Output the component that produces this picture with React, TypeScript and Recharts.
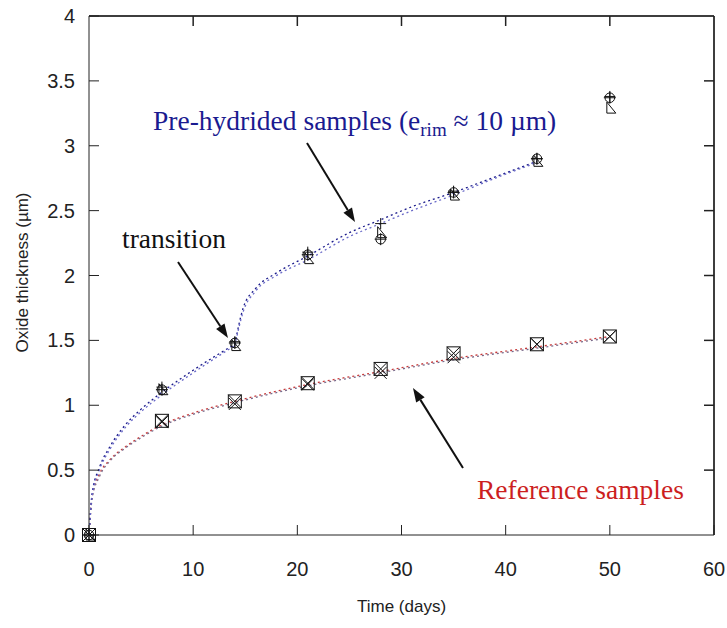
import React from "react";
import { ComposedChart, XAxis, YAxis, Scatter, Line, Label } from "recharts";

// measured days and oxide thickness (µm)
const days = [0, 7, 14, 21, 28, 35, 43, 50];
const phCircle = [0, 1.12, 1.48, 2.16, 2.28, 2.64, 2.9, 3.37];
const phPlus = [0, 1.14, 1.49, 2.18, 2.4, 2.65, 2.9, 3.38];
const phTriangle = [0, 1.12, 1.46, 2.13, 2.33, 2.62, 2.88, 3.29];
const refSquare = [0, 0.88, 1.03, 1.17, 1.28, 1.4, 1.47, 1.53];
const refCross = [0, 0.87, 1.01, 1.16, 1.25, 1.37, 1.47, 1.53];

// fitted curves
const fitDaysEarly = [0, 0.3, 1, 2, 3.5, 5, 7, 10, 14];
const fitPhEarlyA = [0, 0.32, 0.52, 0.68, 0.85, 0.97, 1.1, 1.27, 1.47];
const fitPhEarlyB = [0, 0.3, 0.5, 0.66, 0.83, 0.95, 1.08, 1.25, 1.46];
const fitDaysLate = [14, 14.8, 16, 18, 21, 25, 28, 31, 35, 39, 43];
const fitPhLateA = [1.47, 1.75, 1.9, 2.02, 2.15, 2.33, 2.43, 2.53, 2.64, 2.76, 2.88];
const fitPhLateB = [1.46, 1.72, 1.88, 2.0, 2.12, 2.3, 2.4, 2.5, 2.62, 2.75, 2.87];
const fitDaysRef = [0, 0.3, 1, 2, 3.5, 5, 7, 10, 14, 21, 28, 35, 43, 50];
const fitRefA = [0, 0.3, 0.47, 0.58, 0.68, 0.76, 0.85, 0.94, 1.03, 1.16, 1.26, 1.36, 1.45, 1.53];
const fitRefB = [0, 0.28, 0.45, 0.57, 0.67, 0.75, 0.84, 0.93, 1.02, 1.15, 1.25, 1.35, 1.44, 1.52];

const xTicks = [0, 10, 20, 30, 40, 50, 60];
const yTicks = [0, 0.5, 1, 1.5, 2, 2.5, 3, 3.5, 4];
const topTicks = [10, 20, 30, 40, 50];
const rightTicks = [0.5, 1, 1.5, 2, 2.5, 3, 3.5];

const pts = (xs: number[], ys: number[]) => xs.map((t, i) => ({ t, v: ys[i] }));

const AXIS = "#222";
const TICK_FONT = "'Liberation Sans', Arial, sans-serif";
const SERIF = "'Liberation Serif', 'Times New Roman', serif";

// plot box in page pixels (used only for the frame overlay)
const PL = 89;
const PR = 714;
const PT = 16;
const PB = 535;
const frameX = (t: number) => PL + (t / 60) * (PR - PL);
const frameY = (v: number) => PB - (v / 4) * (PB - PT);

const CirclePlus = ({ cx, cy }: any) => (
  <g stroke="#111" strokeWidth={1} fill="none">
    <circle cx={cx} cy={cy} r={4.8} />
    <line x1={cx - 6} y1={cy} x2={cx + 6} y2={cy} />
    <line x1={cx} y1={cy - 6} x2={cx} y2={cy + 6} />
  </g>
);
const Plus = ({ cx, cy }: any) => (
  <g stroke="#111" strokeWidth={1}>
    <line x1={cx - 5.5} y1={cy} x2={cx + 5.5} y2={cy} />
    <line x1={cx} y1={cy - 5.5} x2={cx} y2={cy + 5.5} />
  </g>
);
const Triangle = ({ cx, cy }: any) => (
  <path
    d={`M${cx - 3},${cy - 6} L${cx - 3},${cy + 5} L${cx + 6},${cy + 5} Z`}
    stroke="#111"
    strokeWidth={1}
    fill="none"
  />
);
const SquareX = ({ cx, cy }: any) => (
  <g stroke="#111" strokeWidth={1} fill="none">
    <rect x={cx - 6.5} y={cy - 6.5} width={13} height={13} />
    <line x1={cx - 6.5} y1={cy - 6.5} x2={cx + 6.5} y2={cy + 6.5} />
    <line x1={cx + 6.5} y1={cy - 6.5} x2={cx - 6.5} y2={cy + 6.5} />
  </g>
);
const Cross = ({ cx, cy }: any) => (
  <g stroke="#111" strokeWidth={1}>
    <line x1={cx - 6} y1={cy - 6} x2={cx + 6} y2={cy + 6} />
    <line x1={cx + 6} y1={cy - 6} x2={cx - 6} y2={cy + 6} />
  </g>
);

const BottomTick = ({ x, y, payload }: any) => (
  <g>
    <line x1={x} y1={y} x2={x} y2={y - 10} stroke={AXIS} />
    <text x={x} y={y + 41} textAnchor="middle" fontFamily={TICK_FONT} fontSize={20} fill="#222">
      {payload.value}
    </text>
  </g>
);
const LeftTick = ({ x, y, payload }: any) => (
  <g>
    <line x1={x} y1={y} x2={x + 10} y2={y} stroke={AXIS} />
    <text x={x - 14} y={y + 7} textAnchor="end" fontFamily={TICK_FONT} fontSize={20} fill="#222">
      {payload.value}
    </text>
  </g>
);

const Arrow = ({ x1, y1, x2, y2 }: { x1: number; y1: number; x2: number; y2: number }) => {
  const a = Math.atan2(y2 - y1, x2 - x1);
  const len = 14;
  const w = 5;
  const bx = x2 - len * Math.cos(a);
  const by = y2 - len * Math.sin(a);
  const p1 = `${bx + w * Math.sin(a)},${by - w * Math.cos(a)}`;
  const p2 = `${bx - w * Math.sin(a)},${by + w * Math.cos(a)}`;
  return (
    <g>
      <line x1={x1} y1={y1} x2={bx} y2={by} stroke="#111" strokeWidth={2} />
      <polygon points={`${x2},${y2} ${p1} ${p2}`} fill="#111" />
    </g>
  );
};

const lineProps = {
  dataKey: "v",
  type: "monotone" as const,
  dot: false,
  strokeWidth: 1.3,
  strokeDasharray: "2 3",
  isAnimationActive: false,
  xAxisId: "top",
  yAxisId: "right",
};

const W = 727;
const H = 628;

export default function App() {
  return (
    <div style={{ position: "absolute", left: 0, top: 0, width: W, height: H, overflow: "hidden" }}>
      <ComposedChart width={W} height={H} margin={{ top: -4, right: -7, left: 0, bottom: 0 }}>
        <XAxis
          dataKey="t"
          type="number"
          domain={[0, 60]}
          ticks={xTicks}
          tickSize={0}
          tickMargin={0}
          height={93}
          stroke={AXIS}
          tick={<BottomTick />}
          interval={0}
        >
          <Label
            content={({ viewBox }: any) => (
              <text
                x={viewBox.x + viewBox.width / 2}
                y={viewBox.y + 77}
                textAnchor="middle"
                fontFamily={TICK_FONT}
                fontSize={17}
                fill="#222"
              >
                Time (days)
              </text>
            )}
          />
        </XAxis>
        <XAxis
          xAxisId="top"
          dataKey="t"
          orientation="top"
          type="number"
          domain={[0, 60]}
          ticks={topTicks}
          height={20}
          tickSize={-10}
          tick={false}
          stroke={AXIS}
        />
        <YAxis
          dataKey="v"
          type="number"
          domain={[0, 4]}
          ticks={yTicks}
          tickSize={0}
          tickMargin={0}
          width={89}
          stroke={AXIS}
          tick={<LeftTick />}
          interval={0}
        >
          <Label
            content={({ viewBox }: any) => {
              const cx = 22;
              const cy = viewBox.y + viewBox.height / 2 - 3;
              return (
                <text
                  x={cx}
                  y={cy}
                  transform={`rotate(-90 ${cx} ${cy})`}
                  textAnchor="middle"
                  dominantBaseline="central"
                  fontFamily={TICK_FONT}
                  fontSize={17}
                  fill="#222"
                >
                  Oxide thickness (µm)
                </text>
              );
            }}
          />
        </YAxis>
        <YAxis
          yAxisId="right"
          dataKey="v"
          orientation="right"
          type="number"
          domain={[0, 4]}
          ticks={rightTicks}
          width={20}
          tickSize={-10}
          tick={false}
          stroke={AXIS}
        />

        <Line {...lineProps} data={pts(fitDaysRef, fitRefA)} stroke="#c83c3c" />
        <Line {...lineProps} data={pts(fitDaysRef, fitRefB)} stroke="#7a6a8a" />
        <Line {...lineProps} data={pts(fitDaysEarly, fitPhEarlyA)} stroke="#1c1c8c" />
        <Line {...lineProps} data={pts(fitDaysEarly, fitPhEarlyB)} stroke="#6a6ac8" />
        <Line {...lineProps} data={pts(fitDaysLate, fitPhLateA)} stroke="#1c1c8c" />
        <Line {...lineProps} data={pts(fitDaysLate, fitPhLateB)} stroke="#6a6ac8" />

        <Scatter data={pts(days, refSquare)} shape={(p: any) => <SquareX cx={p.cx} cy={p.cy} />} isAnimationActive={false} />
        <Scatter data={pts(days, refCross)} shape={(p: any) => <Cross cx={p.cx} cy={p.cy} />} isAnimationActive={false} />
        <Scatter data={pts(days, phCircle)} shape={(p: any) => <CirclePlus cx={p.cx} cy={p.cy} />} isAnimationActive={false} />
        <Scatter data={pts(days, phPlus)} shape={(p: any) => <Plus cx={p.cx} cy={p.cy} />} isAnimationActive={false} />
        <Scatter data={pts(days, phTriangle)} shape={(p: any) => <Triangle cx={p.cx} cy={p.cy} />} isAnimationActive={false} />
      </ComposedChart>

      <svg width={W} height={H} style={{ position: "absolute", left: 0, top: 0, pointerEvents: "none" }}>
        {/* top and right frame with inward ticks */}
        <g stroke={AXIS} strokeWidth={1.5}>
          <line x1={PL} y1={PT} x2={PR} y2={PT} />
          <line x1={PR} y1={PT} x2={PR} y2={PB} />
          {topTicks.map((t) => (
            <line key={`tt${t}`} x1={frameX(t)} y1={PT} x2={frameX(t)} y2={PT + 10} />
          ))}
          {rightTicks.map((v) => (
            <line key={`rt${v}`} x1={PR} y1={frameY(v)} x2={PR - 10} y2={frameY(v)} />
          ))}
        </g>
        <text x={153} y={130} fontFamily={SERIF} fontSize={27.5} fill="#1a1a90">
          Pre-hydrided samples (e
          <tspan fontSize={19} dy={6}>rim</tspan>
          <tspan dy={-6}> ≈ 10 µm)</tspan>
        </text>
        <text x={122} y={248} fontFamily={SERIF} fontSize={27.5} fill="#111">
          transition
        </text>
        <text x={477} y={499} fontFamily={SERIF} fontSize={27.5} fill="#cc1f1f">
          Reference samples
        </text>
        <Arrow x1={307} y1={143} x2={355} y2={222} />
        <Arrow x1={178} y1={262} x2={228} y2={338} />
        <Arrow x1={463} y1={468} x2={413} y2={388} />
      </svg>
    </div>
  );
}
